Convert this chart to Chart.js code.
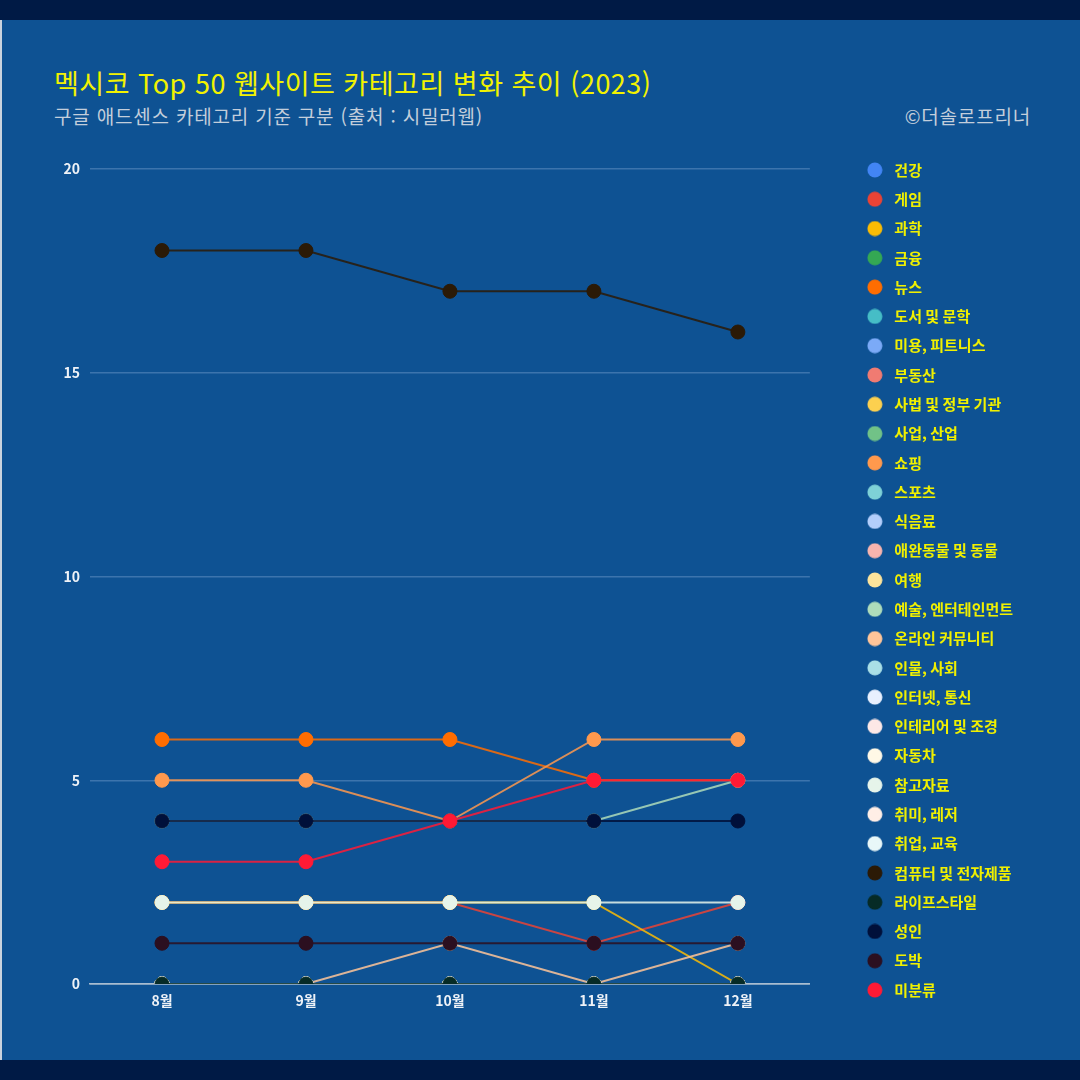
<!DOCTYPE html>
<html lang="ko">
<head>
<meta charset="utf-8">
<script src="https://cdn.jsdelivr.net/npm/chart.js@4.4.1/dist/chart.umd.min.js"></script>
<style>
  html, body { margin: 0; padding: 0; }
  body { width: 1080px; height: 1080px; background: #001a45; position: relative; overflow: hidden;
         font-family: 'Noto Sans CJK KR', 'Noto Sans', sans-serif; }
  #panel { position: absolute; left: 0; top: 20px; width: 1080px; height: 1040px; background: #0e5293;
           border-left: 2px solid #c9d3de; box-sizing: border-box; }
  #title { position: absolute; left: 54px; top: 64px; font-size: 27px; letter-spacing: 0.5px; line-height: 38px; color: #f2f200; white-space: nowrap; }
  #subtitle { position: absolute; left: 54px; top: 104px; font-size: 19px; letter-spacing: 0.8px; line-height: 24px; color: #c3cedb; white-space: nowrap; }
  #credit { position: absolute; right: 49px; top: 104px; font-size: 19px; letter-spacing: 0.8px; line-height: 24px; color: #c3cedb; white-space: nowrap; }
  #wrap { position: absolute; left: 0; top: 140px; width: 1080px; height: 880px; }
</style>
</head>
<body>
<div id="panel"></div>
<div id="title">멕시코 Top 50 웹사이트 카테고리 변화 추이 (2023)</div>
<div id="subtitle">구글 애드센스 카테고리 기준 구분 (출처 : 시밀러웹)</div>
<div id="credit">©더솔로프리너</div>
<div id="wrap"><canvas id="c" width="1080" height="880"></canvas></div>
<script>
const months = ['8월', '9월', '10월', '11월', '12월'];
const yTicks = [0, 5, 10, 15, 20];

const categories = ['건강', '게임', '과학', '금융', '뉴스', '도서 및 문학', '미용, 피트니스', '부동산',
  '사법 및 정부 기관', '사업, 산업', '쇼핑', '스포츠', '식음료', '애완동물 및 동물', '여행',
  '예술, 엔터테인먼트', '온라인 커뮤니티', '인물, 사회', '인터넷, 통신', '인테리어 및 조경', '자동차',
  '참고자료', '취미, 레저', '취업, 교육', '컴퓨터 및 전자제품', '라이프스타일', '성인', '도박', '미분류'];

const colors = ['#4285f4', '#ea4335', '#fbbc04', '#34a853', '#ff6d01', '#46bdc6', '#7baaf7', '#f07b72',
  '#fcd04f', '#71c287', '#ff994d', '#7ed1d7', '#b3cefb', '#f7b4ae', '#fde49b',
  '#aedcba', '#ffc599', '#a9dfe6', '#e8f0fe', '#fde8e6', '#fff8e6',
  '#e6f4ea', '#ffeee6', '#e8f7f8', '#2b1a06', '#062b26', '#00103a', '#2b0f20', '#ff1a35'];

const 건강 = [0, 0, 0, 0, 0];
const 게임 = [2, 2, 2, 1, 2];
const 과학 = [2, 2, 2, 2, 0];
const 금융 = [0, 0, 0, 0, 0];
const 뉴스 = [6, 6, 6, 5, 5];
const 도서및문학 = [0, 0, 0, 0, 0];
const 미용피트니스 = [0, 0, 0, 0, 0];
const 부동산 = [0, 0, 0, 0, 0];
const 사법및정부기관 = [0, 0, 0, 0, 0];
const 사업산업 = [0, 0, 0, 0, 0];
const 쇼핑 = [5, 5, 4, 6, 6];
const 스포츠 = [0, 0, 0, 0, 0];
const 식음료 = [0, 0, 0, 0, 0];
const 애완동물및동물 = [0, 0, 0, 0, 0];
const 여행 = [0, 0, 0, 0, 0];
const 예술엔터테인먼트 = [4, 4, 4, 4, 5];
const 온라인커뮤니티 = [0, 0, 1, 0, 1];
const 인물사회 = [0, 0, 0, 0, 0];
const 인터넷통신 = [0, 0, 0, 0, 0];
const 인테리어및조경 = [0, 0, 0, 0, 0];
const 자동차 = [0, 0, 0, 0, 0];
const 참고자료 = [2, 2, 2, 2, 2];
const 취미레저 = [0, 0, 0, 0, 0];
const 취업교육 = [0, 0, 0, 0, 0];
const 컴퓨터및전자제품 = [18, 18, 17, 17, 16];
const 라이프스타일 = [0, 0, 0, 0, 0];
const 성인 = [4, 4, 4, 4, 4];
const 도박 = [1, 1, 1, 1, 1];
const 미분류 = [3, 3, 4, 5, 5];

const seriesValues = [건강, 게임, 과학, 금융, 뉴스, 도서및문학, 미용피트니스, 부동산, 사법및정부기관, 사업산업,
  쇼핑, 스포츠, 식음료, 애완동물및동물, 여행, 예술엔터테인먼트, 온라인커뮤니티, 인물사회, 인터넷통신,
  인테리어및조경, 자동차, 참고자료, 취미레저, 취업교육, 컴퓨터및전자제품, 라이프스타일, 성인, 도박, 미분류];

function withAlpha(hex, a) {
  const r = parseInt(hex.slice(1, 3), 16), g = parseInt(hex.slice(3, 5), 16), b = parseInt(hex.slice(5, 7), 16);
  return `rgba(${r},${g},${b},${a})`;
}
function dot(color) {
  const cv = document.createElement('canvas');
  cv.width = 16; cv.height = 16;
  const x = cv.getContext('2d');
  x.fillStyle = color;
  x.beginPath(); x.arc(8, 8, 7.5, 0, Math.PI * 2); x.fill();
  return cv;
}
const legendDots = colors.map(dot);

const FONT = "'Noto Sans CJK KR', 'Noto Sans', sans-serif";
Chart.defaults.font.family = FONT;

// legend geometry
const LEG_FONT = 15, LEG_PAD = 14.29, LEG_BOX = 24, LEG_LEFT = 848.7, CANVAS_W = 1080;
const mctx = document.createElement('canvas').getContext('2d');
mctx.font = `bold ${LEG_FONT}px ${FONT}`;
const maxTextW = Math.max(...categories.map(t => mctx.measureText(t).width));
const legendW = LEG_PAD + LEG_BOX + LEG_FONT / 2 + maxTextW;
const padRight = CANVAS_W - (LEG_LEFT + legendW);

const datasets = categories.map((name, i) => ({
  label: name,
  data: seriesValues[i],
  borderColor: withAlpha(colors[i], 0.85),
  backgroundColor: colors[i],
  pointBackgroundColor: colors[i],
  pointBorderColor: colors[i],
  pointBorderWidth: 1,
  pointRadius: 7,
  pointHoverRadius: 7,
  borderWidth: 2,
  tension: 0,
  clip: 0,
  order: -i,
  xAxisID: 'x',
  yAxisID: 'y'
}));

const chart = new Chart(document.getElementById('c'), {
  type: 'line',
  data: { labels: months, datasets },
  options: {
    responsive: false,
    animation: false,
    layout: { padding: { left: 0, right: padRight, top: 0, bottom: 0 } },
    plugins: {
      tooltip: { enabled: false },
      legend: {
        position: 'right',
        labels: {
          usePointStyle: true,
          pointStyleWidth: LEG_BOX,
          padding: LEG_PAD,
          color: '#f0f000',
          font: { size: LEG_FONT, weight: 'bold', family: FONT },
          sort: (a, b) => a.datasetIndex - b.datasetIndex,
          generateLabels: (ch) => {
            const items = Chart.defaults.plugins.legend.labels.generateLabels(ch);
            items.forEach(it => { it.pointStyle = legendDots[it.datasetIndex]; });
            return items;
          }
        }
      }
    },
    scales: {
      x: {
        type: 'category',
        position: 'bottom',
        offset: true,
        grid: { display: false, drawTicks: false },
        border: { display: true, color: '#a9bdd0', width: 1.5 },
        ticks: { color: '#eef2f7', padding: 8, font: { size: 14, weight: 'bold' } },
        afterFit: (s) => { s.height = 36; }
      },
      y: {
        type: 'linear',
        position: 'left',
        min: 0,
        max: 20,
        afterBuildTicks: (s) => { s.ticks = yTicks.map(v => ({ value: v })); },
        grid: {
          drawTicks: false,
          color: (ctx) => ctx.tick && ctx.tick.value === 0 ? '#a9bdd0' : '#3c74ad',
          lineWidth: 1.5
        },
        border: { display: false },
        ticks: { color: '#eef2f7', padding: 10, font: { size: 14, weight: 'bold' } },
        afterFit: (s) => { s.width = 90; }
      },
      xTop: {
        type: 'category',
        position: 'top',
        display: true,
        grid: { display: false, drawTicks: false },
        border: { display: false },
        ticks: { display: false },
        afterFit: (s) => { s.height = 29; }
      },
      yRight: {
        type: 'linear',
        position: 'right',
        display: true,
        min: 0, max: 1,
        grid: { display: false, drawTicks: false },
        border: { display: false },
        ticks: { display: false },
        afterFit: (s) => { s.width = 38.7; }
      }
    }
  }
});

// align the legend's left edge exactly, using the legend's own measured width
for (let k = 0; k < 2; k++) {
  const diff = LEG_LEFT - chart.legend.left;
  if (Math.abs(diff) < 0.2) break;
  chart.options.layout.padding.right -= diff;
  chart.update('none');
}
</script>
</body>
</html>
